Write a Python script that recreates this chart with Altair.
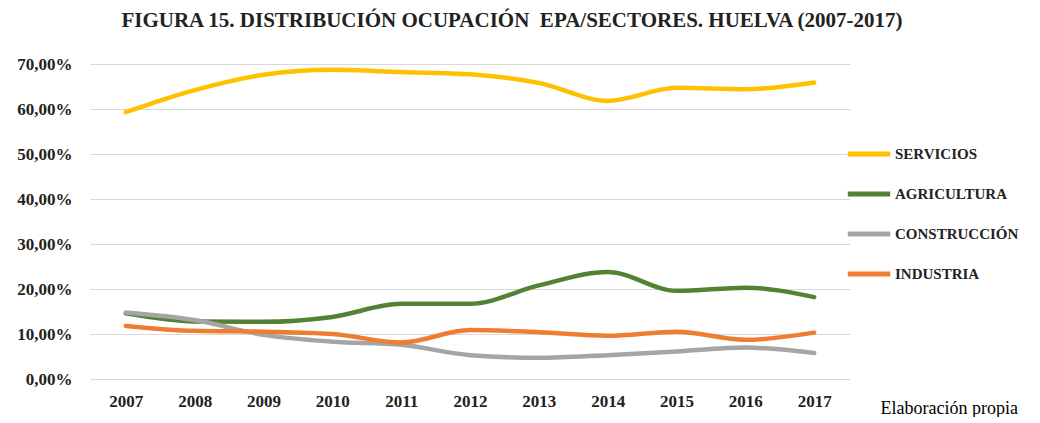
import altair as alt
import pandas as pd

years = ["2007", "2008", "2009", "2010", "2011", "2012", "2013", "2014", "2015", "2016", "2017"]
servicios = [59.3, 64.2, 67.6, 68.7, 68.2, 67.7, 65.8, 61.8, 64.7, 64.4, 65.9]
agricultura = [14.6, 12.8, 12.7, 13.8, 16.7, 16.7, 20.8, 23.8, 19.6, 20.3, 18.2]
construccion = [14.8, 13.1, 9.8, 8.3, 7.6, 5.3, 4.7, 5.3, 6.1, 7.0, 5.8]
industria = [11.8, 10.7, 10.5, 10.0, 8.1, 10.9, 10.4, 9.6, 10.5, 8.7, 10.3]

series_names = ["SERVICIOS", "AGRICULTURA", "CONSTRUCCIÓN", "INDUSTRIA"]
series_values = [servicios, agricultura, construccion, industria]
series_colors = ["#FFC000", "#548235", "#A5A5A5", "#ED7D31"]

rows = []
for name, vals in zip(series_names, series_values):
    for y, v in zip(years, vals):
        rows.append({"year": y, "sector": name, "value": v / 100.0})
df = pd.DataFrame(rows)

FONT = "Liberation Serif"

chart = (
    alt.Chart(df)
    .mark_line(strokeWidth=4.5, interpolate="monotone", strokeCap="round")
    .encode(
        x=alt.X(
            "year:O",
            sort=years,
            scale=alt.Scale(type="point", padding=0.52),
            axis=alt.Axis(
                title="Elaboración propia",
                titleFont=FONT,
                titleFontWeight="normal",
                titleFontSize=18,
                titleColor="#000",
                titleAlign="left",
                titleBaseline="alphabetic",
                titleX=790,
                titleY=34,
                labelAngle=0,
                labelFont=FONT,
                labelFontWeight="bold",
                labelFontSize=17,
                labelColor="#222",
                labelPadding=14,
                ticks=False,
                domain=False,
                grid=False,
            ),
        ),
        y=alt.Y(
            "value:Q",
            scale=alt.Scale(domain=[0, 0.7], nice=False),
            axis=alt.Axis(
                title=None,
                values=[0, 0.1, 0.2, 0.3, 0.4, 0.5, 0.6, 0.7],
                labelExpr="replace(format(datum.value, '.2%'), '.', ',')",
                labelFont=FONT,
                labelFontWeight="bold",
                labelFontSize=17,
                labelColor="#222",
                labelPadding=18,
                ticks=False,
                domain=False,
                grid=True,
                gridColor="#D9D9D9",
                gridWidth=1,
            ),
        ),
        color=alt.Color(
            "sector:N",
            sort=series_names,
            scale=alt.Scale(domain=series_names, range=series_colors),
            legend=alt.Legend(
                title=None,
                orient="none",
                legendX=755,
                legendY=70,
                symbolType="stroke",
                symbolSize=1800,
                symbolStrokeWidth=5,
                clipHeight=40,
                rowPadding=0,
                labelFont=FONT,
                labelFontWeight="bold",
                labelFontSize=15,
                labelColor="#222",
                labelOffset=2,
            ),
        ),
        order=alt.Order("year:O"),
    )
    .properties(
        width=760,
        height=315,
        padding={"left": 82, "top": 56, "right": 180, "bottom": 38},
        autosize=alt.AutoSizeParams(type="none"),
        title=alt.TitleParams(
            text="FIGURA 15. DISTRIBUCIÓN OCUPACIÓN \u00a0EPA/SECTORES. HUELVA (2007-2017)",
            font=FONT,
            fontSize=21,
            fontWeight="bold",
            color="#222",
            anchor="middle",
            dx=42,
            offset=24,
        ),
    )
    .configure_view(stroke=None)
)

chart.save("out.html", embed_options={"renderer": "svg", "actions": False})
